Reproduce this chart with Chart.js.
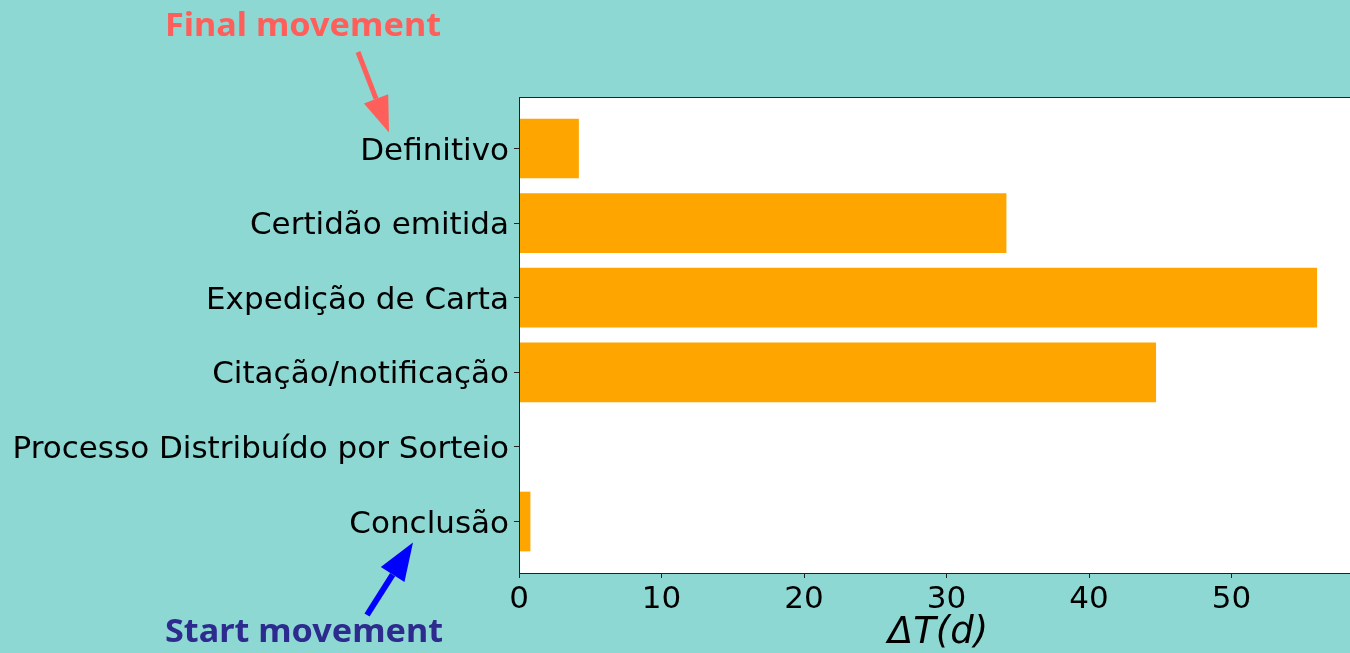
<!DOCTYPE html>
<html>
<head>
<meta charset="utf-8">
<script src="https://cdn.jsdelivr.net/npm/chart.js@4/dist/chart.umd.min.js"></script>
<style>
  html, body { margin: 0; padding: 0; background: #8dd8d3; overflow: hidden; }
  #wrap { width: 1360px; height: 653px; }
</style>
</head>
<body>
<div id="wrap"><canvas id="chart" width="1360" height="653"></canvas></div>
<script>
// movements, bottom (start) to top (final)
const categories = [
  'Conclusão',
  'Processo Distribuído por Sorteio',
  'Citação/notificação',
  'Expedição de Carta',
  'Certidão emitida',
  'Definitivo'
];
const durations = [0.8, 0, 44.7, 56.0, 34.2, 4.2];
const xTicks = [0, 10, 20, 30, 40, 50];
const xMax = 58.8;

const BAR = '#ffa500';
const FINAL_COLOR = '#ff5f5a';
const START_COLOR = '#2e2b8f';
const START_ARROW = '#0000ff';

function drawArrow(ctx, x1, y1, x2, y2, color, lw, headLen, headW) {
  const a = Math.atan2(y2 - y1, x2 - x1);
  const bx = x2 - headLen * Math.cos(a);
  const by = y2 - headLen * Math.sin(a);
  ctx.save();
  ctx.strokeStyle = color;
  ctx.fillStyle = color;
  ctx.lineWidth = lw;
  ctx.beginPath();
  ctx.moveTo(x1, y1);
  ctx.lineTo(bx, by);
  ctx.stroke();
  ctx.beginPath();
  ctx.moveTo(x2, y2);
  ctx.lineTo(bx + headW * Math.sin(a), by - headW * Math.cos(a));
  ctx.lineTo(bx - headW * Math.sin(a), by + headW * Math.cos(a));
  ctx.closePath();
  ctx.fill();
  ctx.restore();
}

// text squeezed/stretched to a target width (stand-in for the rounded font)
function fitText(ctx, text, x, y, width) {
  const w = ctx.measureText(text).width;
  ctx.save();
  ctx.translate(x, y);
  ctx.scale(width / w, 1);
  ctx.fillText(text, 0, 0);
  ctx.restore();
}

const plotFrame = {
  id: 'plotFrame',
  beforeDraw(chart) {
    const { ctx, chartArea: a } = chart;
    ctx.save();
    ctx.fillStyle = '#ffffff';
    ctx.fillRect(a.left, a.top, a.right - a.left, a.bottom - a.top);
    ctx.restore();
  },
  afterDraw(chart) {
    const { ctx, chartArea: a } = chart;
    ctx.save();
    ctx.strokeStyle = '#222';
    ctx.lineWidth = 1;
    ctx.strokeRect(a.left + 0.5, a.top + 0.5, a.right - a.left, a.bottom - a.top);
    ctx.restore();

    // annotations pointing at the first and last movement labels
    const y = chart.scales.y;
    const topLabel = y.getPixelForValue(categories.length - 1);
    const bottomLabel = y.getPixelForValue(0);

    ctx.save();
    ctx.font = 'bold 32px "Noto Sans"';
    ctx.textBaseline = 'alphabetic';
    ctx.textAlign = 'left';
    ctx.fillStyle = FINAL_COLOR;
    fitText(ctx, 'Final movement', 165, 36, 276);
    ctx.fillStyle = START_COLOR;
    fitText(ctx, 'Start movement', 165, 642, 278);
    ctx.restore();

    drawArrow(ctx, 358, 52, 389, topLabel - 16, FINAL_COLOR, 5, 36, 13);
    drawArrow(ctx, 367, 615, 413, bottomLabel + 21, START_ARROW, 6, 38, 14);
  }
};

new Chart(document.getElementById('chart'), {
  type: 'bar',
  data: {
    datasets: [{
      data: durations.map((v, i) => ({ x: v, y: i })),
      backgroundColor: BAR,
      borderWidth: 0,
      barPercentage: 0.8,
      categoryPercentage: 1
    }]
  },
  options: {
    indexAxis: 'y',
    responsive: false,
    animation: false,
    devicePixelRatio: 1,
    layout: { padding: { top: 97, right: 3, left: 0, bottom: 0 } },
    plugins: { legend: { display: false }, tooltip: { enabled: false } },
    scales: {
      y: {
        type: 'linear',
        offset: false,
        min: -0.69,
        max: categories.length - 1 + 0.69,
        afterBuildTicks: s => { s.ticks = categories.map((c, i) => ({ value: i })); },
        afterFit: s => { s.width = 519; },
        ticks: {
          callback: v => categories[v],
          color: '#000',
          font: { family: 'DejaVu Sans', size: 31 },
          padding: 5,
          labelOffset: 3
        },
        grid: { offset: false, drawOnChartArea: false, tickLength: 5, color: '#222' },
        border: { color: '#222', width: 1 }
      },
      x: {
        type: 'linear',
        min: 0,
        max: xMax,
        afterBuildTicks: s => { s.ticks = xTicks.map(v => ({ value: v })); },
        afterFit: s => { s.height = 80; },
        ticks: {
          color: '#000',
          font: { family: 'DejaVu Sans', size: 31 },
          padding: 3,
          maxRotation: 0
        },
        grid: { drawOnChartArea: false, tickLength: 5, color: '#222' },
        border: { color: '#222', width: 1 },
        title: {
          display: true,
          text: 'ΔT(d)',
          color: '#000',
          font: { family: 'DejaVu Sans', size: 37, style: 'italic' },
          padding: { top: 0, bottom: -3 }
        }
      }
    }
  },
  plugins: [plotFrame]
});
</script>
</body>
</html>
